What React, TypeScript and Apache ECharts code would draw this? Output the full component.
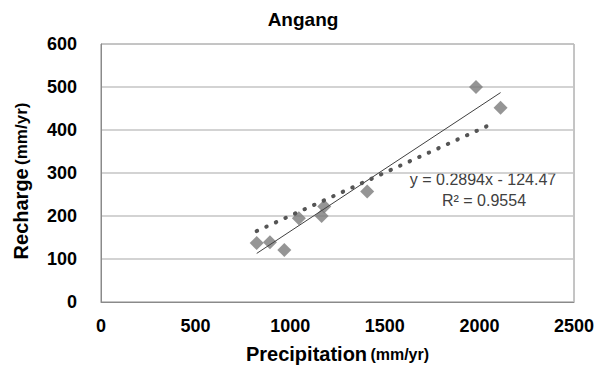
import React, { useEffect, useRef } from "react";
import * as echarts from "echarts";

const title = "Angang";
const precipitation = [823, 893, 969, 1046, 1166, 1180, 1407, 1982, 2112];
const recharge = [137, 139, 121, 195, 200, 222, 257, 500, 452];
const linearTrend = [
  [823, 113],
  [2112, 487],
];
const dottedTrend = [
  [823, 165],
  [2080, 417],
];
const xTicks = [0, 500, 1000, 1500, 2000, 2500];
const yTicks = [0, 100, 200, 300, 400, 500, 600];
const equationText = "y = 0.2894x - 124.47";
const r2Text = "R² = 0.9554";

export default function App() {
  const ref = useRef<HTMLDivElement>(null);
  useEffect(() => {
    if (!ref.current) return;
    const chart = echarts.init(ref.current, null, { renderer: "svg" });
    const font = "'Liberation Sans', Arial, sans-serif";
    chart.setOption({
      animation: false,
      backgroundColor: "#ffffff",
      title: {
        text: title,
        left: "center",
        top: 5,
        textStyle: { fontFamily: font, fontSize: 19, fontWeight: "bold", color: "#000" },
      },
      grid: {
        left: 101,
        top: 44,
        right: 32,
        bottom: 70,
        show: true,
        borderColor: "#8a8a8a",
        borderWidth: 1,
        backgroundColor: "transparent",
      },
      xAxis: {
        type: "value",
        min: xTicks[0],
        max: xTicks[xTicks.length - 1],
        interval: 500,
        name: "{a|Precipitation} {b|(mm/yr)}",
        nameLocation: "middle",
        nameGap: 42,
        nameTextStyle: {
          rich: {
            a: { fontFamily: font, fontSize: 20, fontWeight: "bold", color: "#000" },
            b: { fontFamily: font, fontSize: 16, fontWeight: "bold", color: "#000" },
          },
        },
        axisLine: { show: true, lineStyle: { color: "#8a8a8a" } },
        axisTick: { show: false },
        splitLine: { show: false },
        axisLabel: {
          margin: 15,
          formatter: (v: number) => String(v),
          fontFamily: font,
          fontSize: 18,
          fontWeight: "bold",
          color: "#000",
        },
      },
      yAxis: {
        type: "value",
        min: yTicks[0],
        max: yTicks[yTicks.length - 1],
        interval: 100,
        name: "{a|Recharge} {b|(mm/yr)}",
        nameLocation: "middle",
        nameGap: 70,
        nameTextStyle: {
          padding: [0, 16, 0, 0],
          rich: {
            a: { fontFamily: font, fontSize: 20, fontWeight: "bold", color: "#000" },
            b: { fontFamily: font, fontSize: 17, fontWeight: "bold", color: "#000" },
          },
        },
        axisLine: { show: true, lineStyle: { color: "#8a8a8a" } },
        axisTick: { show: false },
        splitLine: { show: true, lineStyle: { color: "#c4c4c4", width: 1.5 } },
        axisLabel: {
          margin: 24,
          formatter: (v: number) => String(v),
          fontFamily: font,
          fontSize: 18,
          fontWeight: "bold",
          color: "#000",
        },
      },
      series: [
        {
          type: "scatter",
          symbol: "diamond",
          symbolSize: 14,
          itemStyle: { color: "#7a7a7a" },
          data: precipitation.map((x, i) => [x, recharge[i]]),
          z: 2,
        },
        {
          type: "line",
          data: linearTrend,
          symbol: "none",
          lineStyle: { color: "#404040", width: 1 },
          z: 3,
        },
        {
          type: "line",
          data: dottedTrend,
          symbol: "none",
          lineStyle: { color: "#555555", width: 4, type: [0.5, 10], cap: "round" },
          z: 3,
        },
      ],
      graphic: [
        {
          type: "text",
          x: 483,
          y: 179,
          style: {
            text: equationText,
            fontFamily: font,
            fontSize: 16,
            fill: "#404040",
            align: "center",
            verticalAlign: "middle",
          },
        },
        {
          type: "text",
          x: 484,
          y: 200,
          style: {
            text: r2Text,
            fontFamily: font,
            fontSize: 16,
            fill: "#404040",
            align: "center",
            verticalAlign: "middle",
          },
        },
      ],
    });
    return () => chart.dispose();
  }, []);
  return (
    <div
      ref={ref}
      style={{ position: "fixed", left: 0, top: 0, width: 606, height: 372, background: "#fff" }}
    />
  );
}
